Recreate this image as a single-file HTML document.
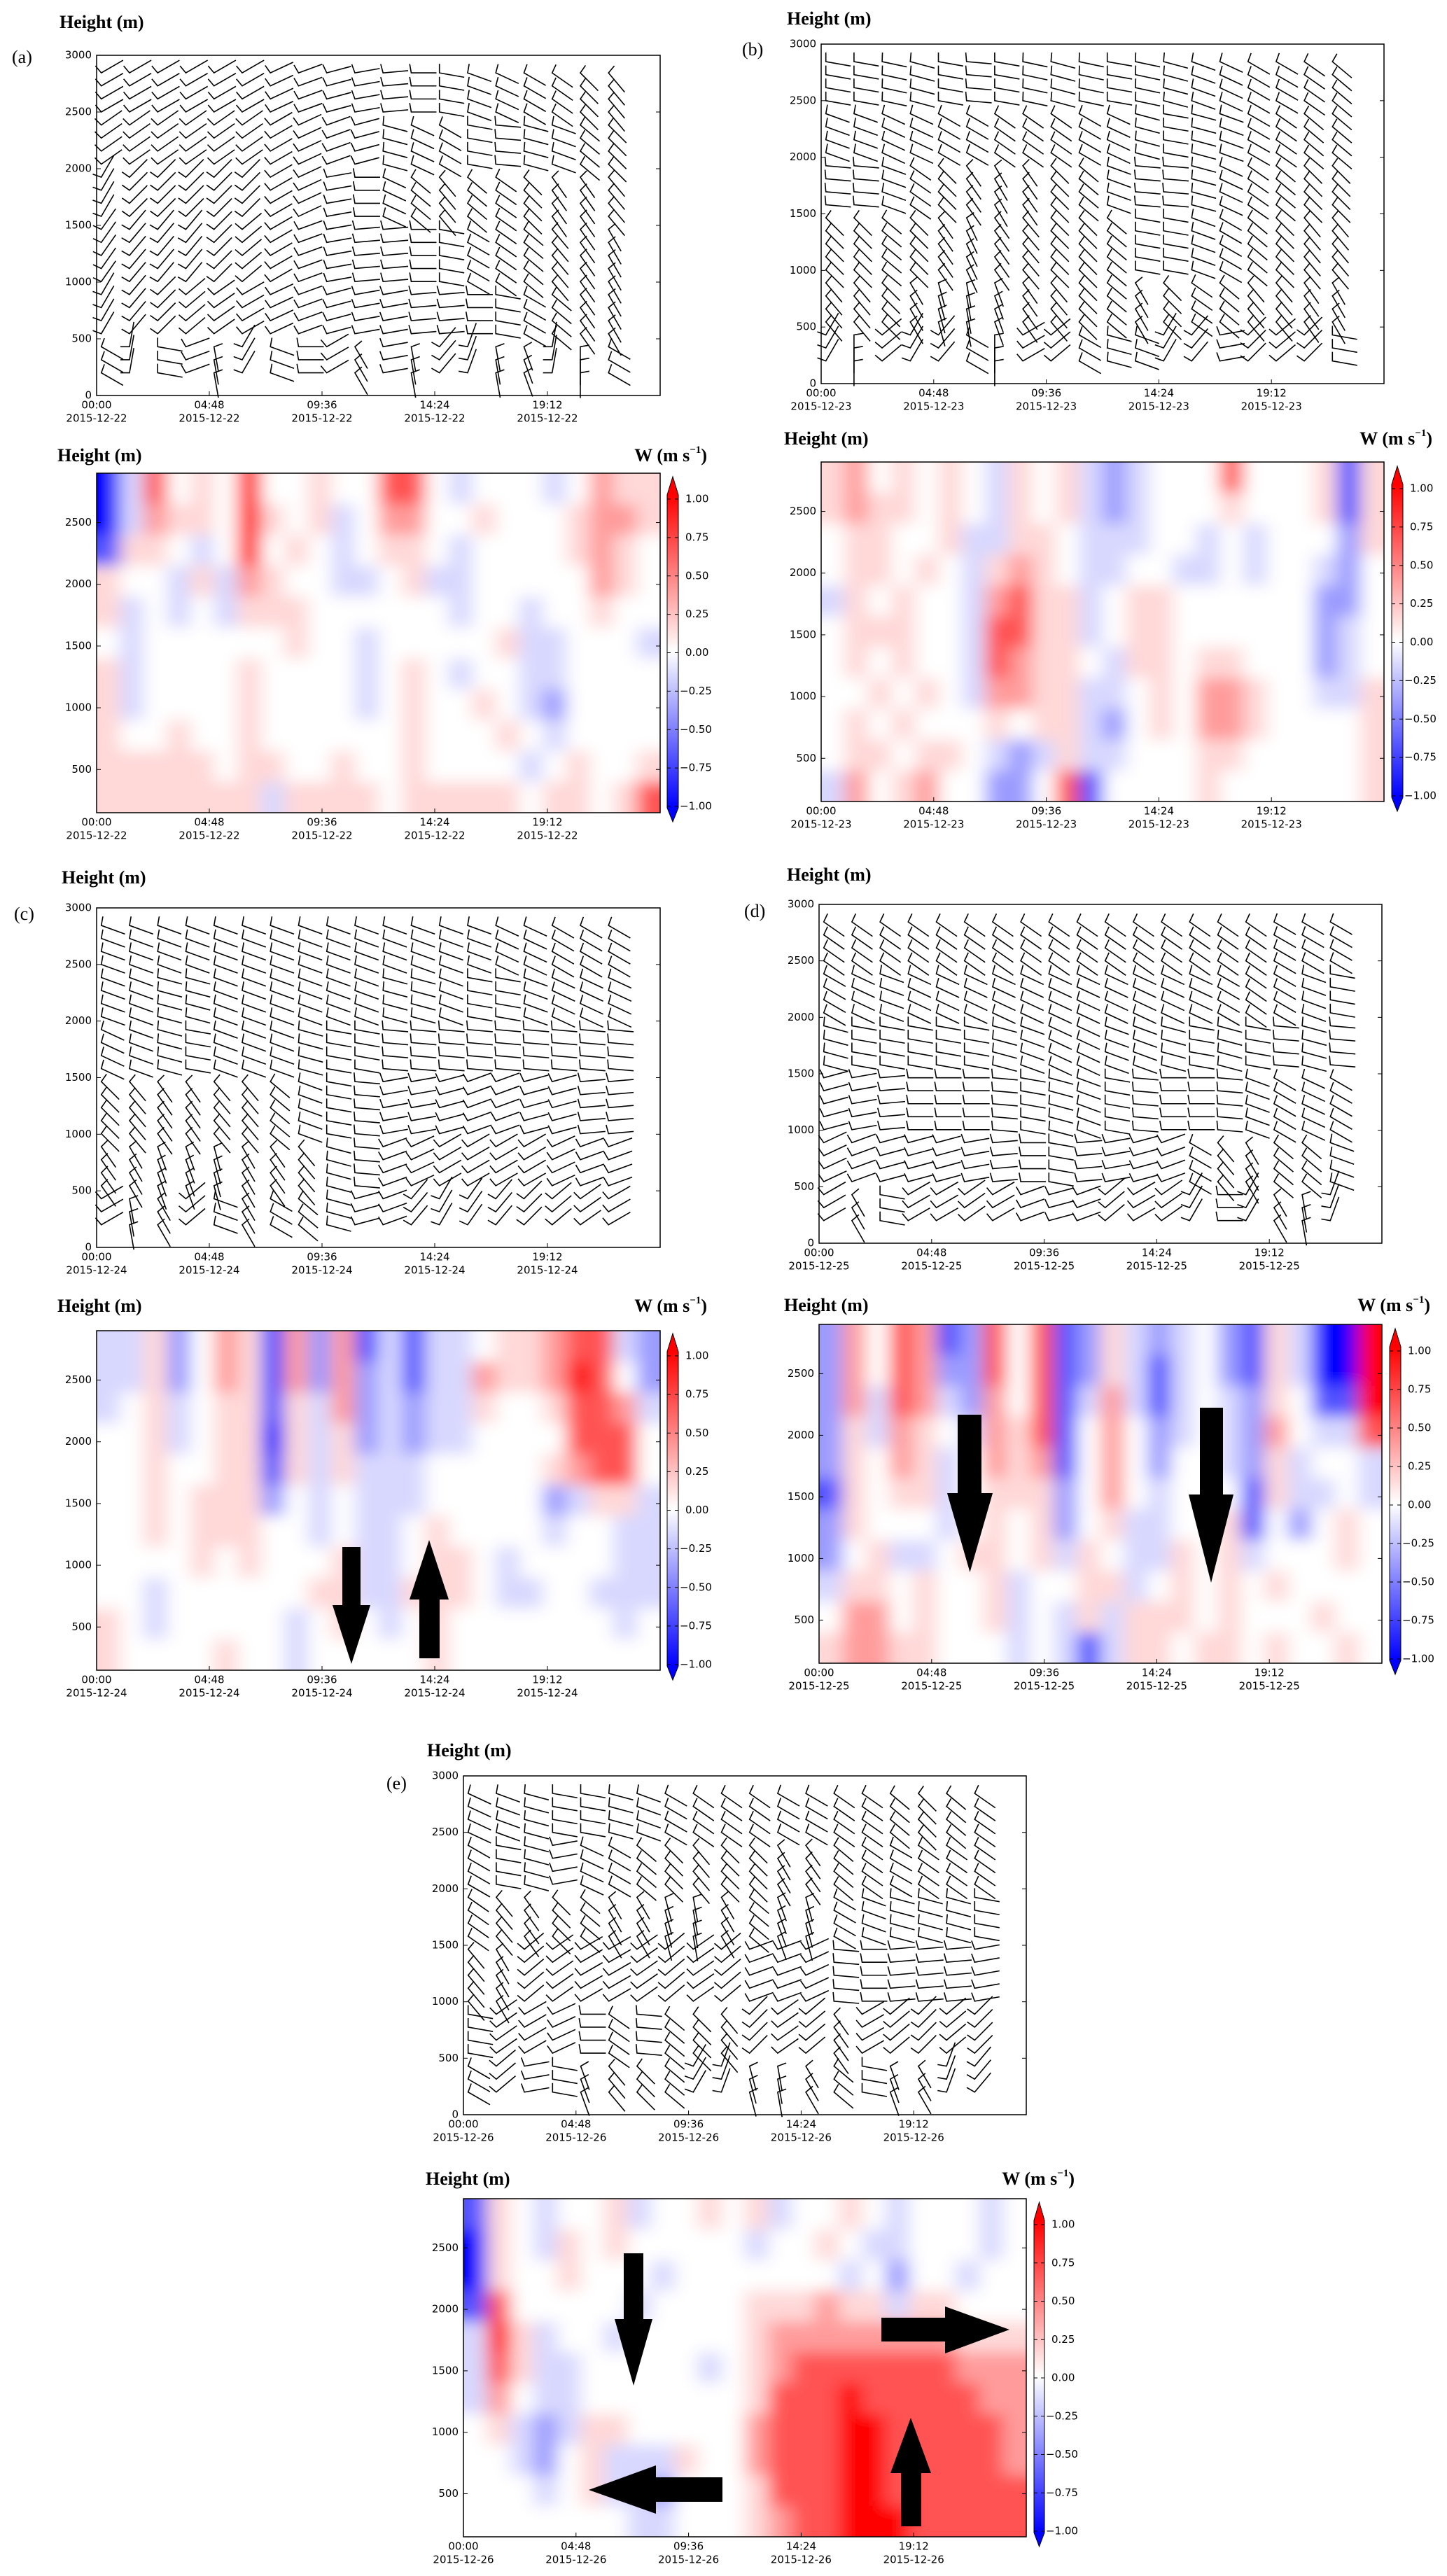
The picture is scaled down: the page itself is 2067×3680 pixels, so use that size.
<!DOCTYPE html>
<html><head><meta charset="utf-8"><style>
html,body{margin:0;padding:0;background:#fff}
svg{display:block}
.tk{font-family:"DejaVu Sans","Liberation Sans",sans-serif;font-size:15px;fill:#000}
.ttl{font-family:"Liberation Serif",serif;font-size:26px;font-weight:bold;fill:#000}
.lbl{font-family:"Liberation Serif",serif;font-size:26px;fill:#000}
</style></head><body>
<svg id="fig" width="2067" height="3680" xmlns="http://www.w3.org/2000/svg">
<rect width="2067" height="3680" fill="#fff"/>
</svg>
<script>
// ---- data ----
const tickTimes = ["00:00","04:48","09:36","14:24","19:12"];
const tickHours = [0,4.8,9.6,14.4,19.2];
const barbYTicks = [0,500,1000,1500,2000,2500,3000];
const heatYTicks = [500,1000,1500,2000,2500];
const cbTicks = [1.00,0.75,0.50,0.25,0.00,-0.25,-0.50,-0.75,-1.00];
const barbHours = [0.2,1.4,2.6,3.8,5,6.2,7.4,8.6,9.8,11,12.2,13.4,14.6,15.8,17,18.2,19.4,20.6,21.8];
const barbLevels = [200,315,430,545,660,775,890,1005,1120,1235,1350,1465,1580,1695,1810,1925,2040,2155,2270,2385,2500,2615,2730,2845];
// barb shaft screen angles (deg) per 500 m band, bottom band first
const dirsA = [
 [30,-80,10,-20,80,-60,20,0,-30,60,-10,80,-50,-70,80,70,-80,90,30],
 [-60,-50,-45,-40,-35,-30,-25,-20,-15,-10,-10,-5,-5,0,10,30,40,55,60],
 [-55,-50,-50,-50,-45,-40,-30,-20,-10,-5,-5,0,10,30,35,40,50,55,60],
 [-60,-45,-45,-45,-45,-45,-30,-25,-10,0,25,40,50,40,35,45,55,55,50],
 [-35,-35,-35,-35,-35,-35,-30,-25,-20,-15,15,25,30,10,5,15,20,40,45],
 [-30,-30,-30,-30,-30,-30,-25,-20,-15,-10,-5,0,10,20,25,30,35,45,50]];
const dirsB = [
 [-60,90,-40,-60,-50,30,90,-30,-40,30,15,20,-60,-50,-10,-45,-40,-45,10],
 [50,50,45,60,75,80,70,55,50,45,40,60,45,35,40,50,50,55,60],
 [45,45,40,45,55,65,55,50,45,45,40,10,10,20,30,40,45,50,50],
 [5,5,20,35,45,55,60,55,45,40,20,5,5,15,25,35,40,45,45],
 [20,20,25,25,30,30,35,35,35,30,25,15,10,15,20,30,35,40,40],
 [10,10,12,15,10,5,10,12,15,12,10,12,15,20,25,30,30,35,40]];
const dirsC = [
 [-30,80,60,-40,20,60,30,40,15,-15,-20,-50,-60,-55,-50,-45,-40,-35,-30],
 [55,60,70,70,75,60,55,50,15,5,-20,-25,-30,-30,-30,-30,-25,-20,-20],
 [45,50,55,55,50,50,40,20,10,5,-10,-10,-15,-20,-20,-15,-15,-5,-5],
 [25,20,15,10,20,20,20,15,10,10,5,5,5,5,5,5,5,5,5],
 [20,20,15,15,20,20,20,20,20,20,15,15,20,10,10,20,25,25,25],
 [20,20,20,20,20,20,20,20,20,20,20,20,20,20,25,25,30,30,30]];
const dirsD = [
 [-30,60,10,-30,-30,-35,-30,-20,-15,-20,-40,-30,-35,-60,0,-60,60,80,-70],
 [-25,-20,-15,-15,-15,-10,-5,0,10,-5,-10,-15,-20,30,50,60,40,40,20],
 [-15,-10,-5,0,0,0,5,10,15,20,10,5,0,0,5,20,30,25,30],
 [15,10,10,10,10,10,15,20,25,25,20,20,15,10,15,10,5,15,5],
 [30,25,20,25,25,25,25,25,25,25,25,25,25,25,30,35,30,20,10],
 [35,35,35,35,35,35,35,35,35,35,35,35,35,35,35,35,30,30,30]];
const dirsE = [
 [30,-40,-10,10,70,50,45,40,-60,-70,75,80,60,40,10,70,60,-70,-50],
 [10,-35,-30,-25,0,35,5,40,45,50,-45,-35,-40,55,-30,-40,-45,-40,-45],
 [50,60,-40,-35,-30,-30,-35,-40,-35,-40,-20,-20,-25,5,0,-5,-5,-5,-10],
 [35,50,55,45,40,60,60,75,80,60,40,70,75,30,20,15,15,15,10],
 [30,10,15,-10,25,30,40,45,50,45,45,60,55,40,35,30,35,35,35],
 [25,20,15,10,10,15,20,30,35,35,35,30,30,35,35,40,45,40,35]];
// vertical velocity W in units of 0.25 m/s; rows top (2900 m) -> bottom (150 m), 24 hourly columns
const wA = [
 [-4,-1,3,0,1,0,4,0,0,1,0,0,3,3,0,-1,0,0,0,-1,0,2,1,1],
 [-4,-1,2,1,1,0,4,1,0,1,-1,0,2,2,0,0,1,0,0,0,1,2,2,1],
 [-3,1,1,0,-1,0,4,0,1,0,-1,0,1,1,0,-1,0,0,0,0,1,2,1,0],
 [1,0,0,-1,1,-1,2,1,0,0,-1,-1,0,1,-1,-1,0,0,0,0,0,2,1,0],
 [1,-1,0,-1,0,-1,1,1,1,0,0,0,0,0,0,-1,0,0,-1,0,0,1,0,0],
 [0,-1,0,0,0,0,0,0,1,0,0,-1,0,0,0,0,0,1,-1,-1,0,0,0,-1],
 [1,-1,0,0,0,0,1,0,0,0,0,-1,0,1,0,-1,0,0,-1,-1,0,0,0,0],
 [1,-1,0,0,0,0,1,0,0,0,0,-1,0,1,0,0,1,0,-1,-2,0,0,0,0],
 [1,0,0,1,0,0,1,0,0,0,0,0,0,1,0,0,0,1,0,-1,0,0,0,0],
 [1,1,1,1,1,0,1,1,0,0,1,0,0,1,0,0,0,0,-1,0,1,0,0,1],
 [1,1,1,1,1,1,1,-1,1,1,1,1,0,1,1,1,1,1,0,1,1,0,1,3]];
const wB = [
 [1,2,0,1,0,1,0,-1,1,0,1,-1,-2,-1,0,0,0,3,0,0,0,1,-3,1],
 [1,2,1,1,0,1,0,-1,1,0,1,-1,-2,-1,0,0,0,1,0,0,0,1,-3,1],
 [0,1,1,0,0,1,-1,-1,1,1,0,-1,-1,-1,0,0,-1,0,-1,0,0,0,-2,1],
 [0,1,1,0,1,0,-1,1,2,1,0,-1,-1,0,0,-1,-1,0,-1,0,0,-1,-2,0],
 [-1,1,0,1,0,0,-1,2,3,1,1,-1,0,1,1,0,0,0,0,0,0,-2,-2,0],
 [0,1,1,1,0,0,-1,3,3,1,1,-1,0,1,1,0,0,0,0,0,0,-2,-1,0],
 [0,1,0,1,0,0,-1,3,2,1,1,0,-1,1,1,0,1,1,0,0,0,-2,-1,0],
 [0,0,1,0,1,0,-1,2,2,1,1,-1,-1,0,1,0,2,2,1,0,0,-1,-1,1],
 [0,1,0,1,0,0,0,1,0,1,1,-1,-2,0,1,0,2,2,1,0,0,0,0,1],
 [0,1,1,0,1,1,0,-1,-2,-1,1,-1,-1,0,0,0,1,1,0,0,0,0,0,1],
 [-1,2,0,1,2,0,0,-2,-2,0,3,-3,0,0,0,0,1,0,0,0,0,0,0,1]];
const wC = [
 [-1,-1,1,-2,0,2,1,-3,2,-2,2,-3,-1,-3,-1,-1,0,1,1,2,3,3,-1,-2],
 [-1,-1,1,-2,0,2,1,-3,2,-2,2,-2,-1,-3,-1,-1,2,1,1,2,4,3,0,-2],
 [-1,0,1,-1,0,1,1,-3,1,-1,2,-2,-1,-2,-1,-1,1,0,0,1,3,3,2,-1],
 [0,0,1,-1,0,1,1,-4,1,-1,1,-2,-1,-2,-1,-1,0,0,0,0,3,3,3,0],
 [0,0,1,0,0,1,1,-3,1,-1,1,-1,-1,-1,0,0,0,0,0,1,2,3,3,0],
 [0,0,1,0,1,1,1,-2,0,-1,0,-1,-1,-1,0,0,0,0,0,-2,-1,1,1,-1],
 [0,0,1,0,1,1,1,0,0,-1,0,-1,-1,0,1,0,0,0,0,-1,0,0,-1,-1],
 [0,0,0,0,1,0,1,0,0,0,1,-1,-1,0,1,1,0,-1,0,0,0,0,-1,-1],
 [0,0,-1,0,0,0,0,0,0,1,1,-1,-1,1,1,1,0,-1,-1,0,0,-1,-1,-1],
 [1,0,-1,0,0,0,0,0,-1,0,1,0,-1,0,1,0,0,0,0,0,0,0,-1,0],
 [1,0,0,0,0,1,0,0,-1,0,0,0,0,0,1,0,0,0,0,0,0,0,0,0]];
const wD = [
 [-2,2,0,3,2,-3,-2,3,0,3,-3,-2,1,-1,-2,-1,0,-2,-3,1,-1,-4,-4,4],
 [-2,2,0,3,2,-2,-2,3,0,3,-3,-2,1,-1,-3,-1,0,-2,-3,1,-1,-4,-4,4],
 [-2,2,-1,3,2,-1,-2,2,0,3,-3,-1,2,-1,-3,-1,0,-1,-2,1,0,-3,-3,4],
 [-2,1,-1,2,1,0,-1,2,1,3,-3,0,2,0,-2,-1,0,-1,-2,2,0,-1,-1,3],
 [-2,1,0,2,1,-1,0,2,1,2,-3,0,2,0,-2,0,0,-1,-2,1,-1,0,0,-1],
 [-3,1,0,1,1,-1,0,1,1,1,-2,0,2,0,-1,0,0,0,-3,1,-1,-1,0,-1],
 [-2,1,0,0,0,-1,0,1,0,1,-2,0,1,-1,-1,0,0,1,-3,0,-2,0,1,0],
 [-2,0,1,-1,-1,0,1,1,0,1,-1,1,0,-1,-1,1,0,1,-1,0,0,0,1,0],
 [-1,1,1,0,1,0,0,1,-1,0,0,1,1,-1,0,1,0,1,0,1,0,0,0,0],
 [0,2,2,0,1,0,0,1,-1,0,-1,1,-1,1,1,1,0,1,0,0,0,1,0,0],
 [1,2,2,1,1,0,0,0,-1,0,-1,-3,-1,1,1,0,1,1,0,1,0,0,1,0]];
const wE = [
 [-3,1,0,-1,0,0,1,-1,0,0,1,0,1,-1,0,0,1,0,-1,0,0,0,-1,0],
 [-4,1,0,-1,1,0,1,0,0,0,0,0,-1,0,0,1,0,-1,-1,0,0,0,-1,0],
 [-4,1,0,0,1,0,0,0,-1,0,0,0,0,0,0,0,-1,0,-2,0,0,-1,0,0],
 [-3,3,0,0,0,0,0,-1,0,0,0,0,1,1,1,2,1,1,-1,1,1,0,0,0],
 [-1,4,1,-1,0,0,-1,0,0,0,0,0,1,2,2,2,2,2,2,2,2,1,1,1],
 [-1,3,1,-1,-1,0,0,0,0,0,-1,0,1,2,3,3,3,3,3,3,3,2,2,2],
 [-1,2,0,-1,-1,0,0,0,0,0,0,0,1,3,3,3,4,3,3,3,3,3,2,2],
 [0,1,-1,-2,-1,1,1,0,0,0,0,0,2,3,3,3,4,4,3,3,3,3,3,2],
 [0,0,-1,-2,0,1,-1,-1,-1,1,0,0,2,3,3,3,4,4,3,3,3,3,3,2],
 [0,0,0,-1,0,1,-1,-1,-2,0,0,0,1,3,3,3,4,4,3,3,3,3,3,3],
 [0,0,0,0,0,0,0,-1,-1,0,0,0,1,2,3,3,4,4,4,3,3,3,3,3]];

const NS = "http://www.w3.org/2000/svg";
const svg = document.getElementById('fig');
function mk(tag, attrs, parent){
  const e = document.createElementNS(NS, tag);
  for (const k in attrs) e.setAttribute(k, attrs[k]);
  (parent||svg).appendChild(e); return e;
}
function txt(s, x, y, cls, anchor, parent){
  const t = mk('text', {x:x, y:y, class:cls, 'text-anchor':anchor||'start', 'dominant-baseline':'middle'}, parent);
  t.textContent = s; return t;
}
function col(v){
  v = Math.max(-1, Math.min(1, v));
  let r,g,b;
  if (v < 0){ r = g = Math.round(255*(1+v)); b = 255; }
  else { r = 255; g = b = Math.round(255*(1-v)); }
  return `rgb(${r},${g},${b})`;
}
function heatCol(v){
  const s = Math.sign(v), m = Math.abs(v);
  return col(s*Math.pow(m, 1.35));
}
let filterCount = 0;

function timeAxis(g, L, W, B, date){
  tickHours.forEach((h,i)=>{
    const x = L + h/24*W;
    mk('line',{x1:x,y1:B,x2:x,y2:B-6,stroke:'#000','stroke-width':1},g);
    const t1 = txt(tickTimes[i], x, B+14, 'tk', 'middle', g);
    
    
    const t2 = txt(date, x, B+33, 'tk', 'middle', g);
    
    
  });
}

function drawPanel(p){
  const g = mk('g', {});
  
  
  const lb = txt('(' + p.id + ')', p.lab[0], p.lab[1], 'lbl', 'start', g);
  
  
  // ---- barb plot ----
  const b = p.barb, bW = b.R-b.L, bH = b.B-b.T;
  const t1 = txt('Height (m)', p.title[0], p.title[1], 'ttl', 'start', g);
  
  
  const bg = mk('g', {}, g);
  
  
  const yB = h => b.B - h/3000*bH;
  const xB = h => b.L + h/24*bW;
  barbHours.forEach((hr, i)=>{
    barbLevels.forEach(lv=>{
      const band = Math.min(5, Math.floor(lv/500));
      const a = p.dirs[band][i]*Math.PI/180;
      const x0 = xB(hr), y0 = yB(lv);
      const x1 = x0 + 36*Math.cos(a), y1 = y0 + 36*Math.sin(a);
      const ta = a - 100*Math.PI/180;
      const x2 = x0 + 13*Math.cos(ta), y2 = y0 + 13*Math.sin(ta);
      const pl = mk('polyline', {points:`${x2},${y2} ${x0},${y0} ${x1},${y1}`, fill:'none', stroke:'#000','stroke-width':1.6}, bg);
      
      
    });
  });
  const fr = mk('rect', {x:b.L,y:b.T,width:bW,height:bH,fill:'none',stroke:'#000','stroke-width':1.5}, g);
  
  
  barbYTicks.forEach(v=>{
    const y = yB(v);
    mk('line',{x1:b.L,y1:y,x2:b.L+6,y2:y,stroke:'#000'},g);
    mk('line',{x1:b.R,y1:y,x2:b.R-6,y2:y,stroke:'#000'},g);
    const t = txt(String(v), b.L-7, y, 'tk', 'end', g);
    
    
  });
  timeAxis(g, b.L, bW, b.B, p.date);

  // ---- heatmap ----
  const h = p.heat, hW = h.R-h.L, hH = h.B-h.T;
  const t2 = txt('Height (m)', p.htitle[0], p.htitle[1], 'ttl', 'start', g);
  
  
  const t3 = mk('text', {x:p.wx, y:p.htitle[1], class:'ttl', 'text-anchor':'end', 'dominant-baseline':'middle'}, g);
  t3.innerHTML = 'W (m s<tspan font-size="15" dy="-9">−1</tspan><tspan dy="9">)</tspan>';
  
  
  const yH = m => h.B - (m-150)/2750*hH;
  const xH = hr => h.L + hr/24*hW;
  const cid = 'clip' + filterCount;
  const cp = mk('clipPath', {id:cid}, g);
  mk('rect', {x:h.L, y:h.T, width:hW, height:hH}, cp);
  const fid = 'blur' + (filterCount++);
  const f = mk('filter', {id:fid, x:h.L-60, y:h.T-60, width:hW+120, height:hH+120, filterUnits:'userSpaceOnUse'}, g);
  mk('feGaussianBlur', {stdDeviation:'13 11'}, f);
  const clipG = mk('g', {'clip-path':`url(#${cid})`}, g);
  const hg = mk('g', {filter:`url(#${fid})`}, clipG);
  
  
  const nr = p.w.length;
  p.w.forEach((row, r)=>{
    const top = 2900 - r*250, bot = top - 250;
    row.forEach((v, c)=>{
      let x0 = xH(c), x1 = xH(c+1);
      let ya = yH(top), yb = yH(bot);
      // extend edge cells outward so blur does not fade at frame
      if (c === 0) x0 -= 60;
      if (c === row.length-1) x1 += 60;
      if (r === 0) ya -= 60;
      if (r === nr-1) yb += 60;
      const rc = mk('rect', {x:x0, y:ya, width:x1-x0+0.5, height:yb-ya+0.5, fill:heatCol(v/4)}, hg);
      
      
    });
  });
  const hf = mk('rect', {x:h.L,y:h.T,width:hW,height:hH,fill:'none',stroke:'#000','stroke-width':1.5}, g);
  
  
  heatYTicks.forEach(v=>{
    const y = yH(v);
    mk('line',{x1:h.L,y1:y,x2:h.L+6,y2:y,stroke:'#000'},g);
    mk('line',{x1:h.R,y1:y,x2:h.R-6,y2:y,stroke:'#000'},g);
    const t = txt(String(v), h.L-7, y, 'tk', 'end', g);
    
    
  });
  timeAxis(g, h.L, hW, h.B, p.date);

  // ---- colorbar ----
  const cb = p.cb, cw = cb.w;
  const rT = cb.T + 26, rB = cb.B - 20;
  const gid = 'cg' + p.id;
  const lg = mk('linearGradient', {id:gid, x1:0, y1:0, x2:0, y2:1}, g);
  [[0,1],[0.5,0],[1,-1]].forEach(s=>mk('stop',{offset:s[0],'stop-color':col(s[1])},lg));
  const cbg = mk('g', {}, g);
  
  
  mk('rect',{x:cb.x,y:rT,width:cw,height:rB-rT,fill:`url(#${gid})`},cbg);
  mk('polygon',{points:`${cb.x},${rT} ${cb.x+cw/2},${cb.T} ${cb.x+cw},${rT}`,fill:col(1)},cbg);
  mk('polygon',{points:`${cb.x},${rB} ${cb.x+cw/2},${cb.B} ${cb.x+cw},${rB}`,fill:col(-1)},cbg);
  mk('polygon',{points:`${cb.x},${rT} ${cb.x+cw/2},${cb.T} ${cb.x+cw},${rT} ${cb.x+cw},${rB} ${cb.x+cw/2},${cb.B} ${cb.x},${rB}`,fill:'none',stroke:'#000','stroke-width':1},cbg);
  const y1 = rT + 6, y2 = rB - 2;
  cbTicks.forEach(v=>{
    const y = y1 + (1-v)/2*(y2-y1);
    mk('line',{x1:cb.x+cw-5,y1:y,x2:cb.x+cw,y2:y,stroke:'#000'},cbg);
    mk('line',{x1:cb.x,y1:y,x2:cb.x+5,y2:y,stroke:'#000'},cbg);
    const s = (v<0?'−':'') + Math.abs(v).toFixed(2);
    const t = txt(s, cb.x+cw+(v<0?2:10), y, 'tk', 'start', cbg);
    
    
  });
  (p.arrows||[]).forEach(pts=>{
    const a = mk('polygon',{points:pts.map(q=>q.join(',')).join(' '),fill:'#000'},g);
    
    
  });
}

function downArrow(x1,x2,top,hb,hx1,hx2,tip){return [[x1,top],[x2,top],[x2,hb],[hx2,hb],[(hx1+hx2)/2,tip],[hx1,hb],[x1,hb]];}
function upArrow(x1,x2,bot,hb,hx1,hx2,tip){return [[x1,bot],[x2,bot],[x2,hb],[hx2,hb],[(hx1+hx2)/2,tip],[hx1,hb],[x1,hb]];}

const panels = [
 {id:'a', date:'2015-12-22', dirs:dirsA, w:wA, lab:[17,84], title:[85,34], htitle:[82,653], wx:1010,
  barb:{L:138,R:943,T:79,B:565}, heat:{L:138,R:943,T:676,B:1161}, cb:{x:953,w:16,T:681,B:1174}},
 {id:'b', date:'2015-12-23', dirs:dirsB, w:wB, lab:[1060,73], title:[1124,29], htitle:[1120,629], wx:2046,
  barb:{L:1173,R:1977,T:63,B:548}, heat:{L:1173,R:1977,T:660,B:1145}, cb:{x:1988,w:16,T:666,B:1159}},
 {id:'c', date:'2015-12-24', dirs:dirsC, w:wC, lab:[20,1308], title:[88,1256], htitle:[82,1868], wx:1010,
  barb:{L:138,R:943,T:1297,B:1782}, heat:{L:138,R:943,T:1901,B:2386}, cb:{x:953,w:16,T:1905,B:2400},
  arrows:[downArrow(489,515,2210,2293,475,529,2377), upArrow(599,628,2369,2285,585,641,2200)]},
 {id:'d', date:'2015-12-25', dirs:dirsD, w:wD, lab:[1063,1304], title:[1124,1252], htitle:[1120,1867], wx:2043,
  barb:{L:1170,R:1974,T:1292,B:1776}, heat:{L:1170,R:1974,T:1892,B:2376}, cb:{x:1985,w:16,T:1898,B:2392},
  arrows:[downArrow(1368,1402,2021,2133,1353,1418,2246), downArrow(1714,1747,2011,2135,1698,1762,2261)]},
 {id:'e', date:'2015-12-26', dirs:dirsE, w:wE, lab:[552,2550], title:[610,2503], htitle:[608,3115], wx:1535,
  barb:{L:662,R:1466,T:2537,B:3021}, heat:{L:662,R:1466,T:3141,B:3624}, cb:{x:1477,w:15,T:3146,B:3638},
  arrows:[downArrow(891,919,3219,3313,878,932,3408),
          [[1032,3539],[1032,3574],[937,3574],[937,3591],[841,3557],[937,3522],[937,3539]],
          [[1259,3311],[1350,3311],[1350,3295],[1442,3328],[1350,3362],[1350,3345],[1259,3345]],
          upArrow(1287,1316,3609,3533,1272,1330,3454)]}
];
panels.forEach(drawPanel);
</script>
</body></html>
